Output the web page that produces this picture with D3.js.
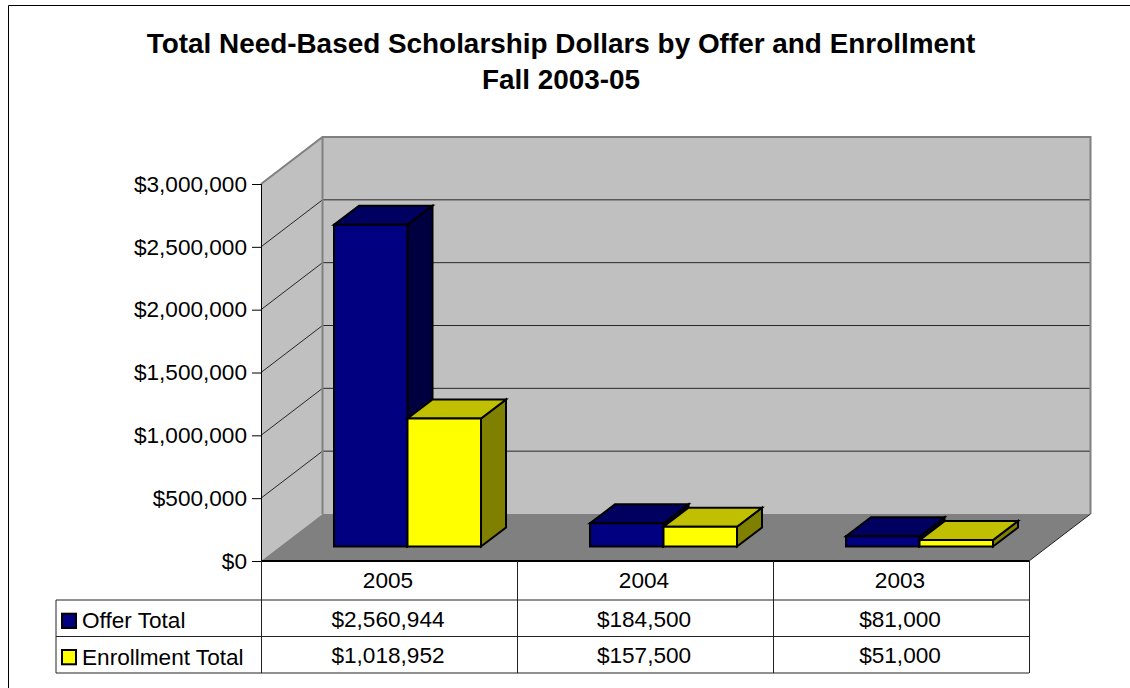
<!DOCTYPE html>
<html><head><meta charset="utf-8">
<script src="https://cdnjs.cloudflare.com/ajax/libs/d3/7.8.5/d3.min.js"></script>
<style>html,body{margin:0;padding:0;background:#fff;overflow:hidden}text{font-family:"Liberation Sans",Arial,sans-serif;fill:#000}</style>
</head><body><svg id="c" width="1130" height="688"></svg>
<script>
const titleLines = ["Total Need-Based Scholarship Dollars by Offer and Enrollment", "Fall 2003-05"];
const categories = ["2005", "2004", "2003"];
const seriesNames = ["Offer Total", "Enrollment Total"];
const offerTotal = [2560944, 184500, 81000];
const enrollmentTotal = [1018952, 157500, 51000];
const seriesValues = [offerTotal, enrollmentTotal];
const yTicks = [0, 500000, 1000000, 1500000, 2000000, 2500000, 3000000];

const svg = d3.select("#c");
const money = d3.format("$,");
const pLeft = 261, pRight = 1029, pBottom = 561, pTop = 184;
const depthX = 61.5, depthY = -47;
const x = d3.scaleBand().domain(categories).range([pLeft, pRight]);
const y = d3.scaleLinear().domain([0, 3000000]).range([pBottom, pTop]);
const line = d3.line();
const fs = 22.6;

// frame
svg.append("path").attr("d", "M8.5,688V5.5H1130").attr("fill", "none").attr("stroke", "#000").attr("stroke-width", 1);

// title
svg.selectAll(".title").data(titleLines).join("text").attr("class", "title")
  .attr("x", 561).attr("y", (d, i) => 52.5 + i * 36).attr("text-anchor", "middle")
  .attr("font-size", 27.9).attr("font-weight", "bold").text(d => d);

// walls and floor
const poly = (pts, fill) => svg.append("path").attr("d", line(pts) + "Z").attr("fill", fill);
poly([[pLeft, pBottom], [pLeft + depthX, pBottom + depthY], [pLeft + depthX, pTop + depthY], [pLeft, pTop]], "#c0c0c0");
poly([[pLeft + depthX, pBottom + depthY], [pRight + depthX, pBottom + depthY], [pRight + depthX, pTop + depthY], [pLeft + depthX, pTop + depthY]], "#c0c0c0");
poly([[pLeft, pBottom], [pRight, pBottom], [pRight + depthX, pBottom + depthY], [pLeft + depthX, pBottom + depthY]], "#808080");

// gridlines
const grid = yTicks.filter(t => t > 0 && t < 3000000);
svg.selectAll(".g").data(grid).join("path").attr("fill", "none").attr("stroke", "#000").attr("stroke-width", 1)
  .attr("stroke-opacity", .8)
  .attr("d", t => line([[pLeft, y(t)], [pLeft + depthX, y(t) + depthY], [pRight + depthX, y(t) + depthY]]));

// wall outlines
svg.append("path").attr("fill", "none").attr("stroke", "#808080").attr("stroke-width", 2)
  .attr("d", line([[pLeft, pTop], [pLeft + depthX, pTop + depthY], [pRight + depthX, pTop + depthY], [pRight + depthX, pBottom + depthY]]));
svg.append("path").attr("fill", "none").attr("stroke", "#808080").attr("stroke-width", 2)
  .attr("d", line([[pLeft + depthX, pTop + depthY], [pLeft + depthX, pBottom + depthY]]));
svg.append("path").attr("fill", "none").attr("stroke", "#222").attr("stroke-width", 1)
  .attr("d", line([[pRight, pBottom], [pRight + depthX, pBottom + depthY]]));

// bars
const barW = 73.5, barGap = 54, floorDX = 19, floorDY = -14.5, barDX = 25, barDY = -19;
const seriesFill = [
  {front: "#000080", topc: "#000060", side: "#000040"},
  {front: "#ffff00", topc: "#c0c000", side: "#808000"}
];
categories.forEach((c, ci) => {
  seriesValues.forEach((vals, si) => {
    const x0 = x(c) + barGap + floorDX + si * barW, x1 = x0 + barW;
    const y0 = y(0) + floorDY, y1 = y(vals[ci]) + floorDY;
    const col = seriesFill[si], g = svg.append("g").attr("stroke", "#000").attr("stroke-width", 2).attr("stroke-linejoin", "miter");
    const p = (pts, f) => g.append("path").attr("d", line(pts) + "Z").attr("fill", f);
    p([[x1, y0], [x1 + barDX, y0 + barDY], [x1 + barDX, y1 + barDY], [x1, y1]], col.side);
    p([[x0, y1], [x1, y1], [x1 + barDX, y1 + barDY], [x0 + barDX, y1 + barDY]], col.topc);
    p([[x0, y0], [x1, y0], [x1, y1], [x0, y1]], col.front);
  });
});

// value axis
const axis = d3.axisLeft(y).tickValues(yTicks).tickFormat(money).tickSize(9).tickPadding(5);
const ga = svg.append("g").attr("transform", `translate(${pLeft},0)`).call(axis);
ga.select(".domain").attr("stroke", "#000").attr("stroke-width", 1).attr("d", `M0.5,${pTop}V${pBottom}`);
ga.selectAll("line").attr("stroke", "#000");
ga.selectAll("text").attr("font-size", fs).attr("fill", "#000");
ga.attr("font-family", null).attr("font-size", null);

// data table
const tbl = svg.append("g").attr("fill", "none").attr("stroke", "#222").attr("stroke-width", 1);
tbl.append("path").attr("d", `M${pLeft},${pBottom}H${pRight}`).attr("stroke", "#000").attr("stroke-width", 2);
[600, 636.5, 673].forEach(r => tbl.append("path").attr("d", `M56,${r}H${pRight}`));
tbl.append("path").attr("d", `M56,600V673`);
x.domain().concat([null]).forEach(c => {
  const xp = c === null ? pRight : x(c);
  tbl.append("path").attr("d", `M${Math.round(xp) + .5},${pBottom}V673`);
});
svg.selectAll(".cat").data(categories).join("text").attr("class", "cat")
  .attr("x", d => x(d) + x.bandwidth() / 2 - 1).attr("y", 588).attr("text-anchor", "middle").attr("font-size", fs).text(d => d);
seriesValues.forEach((vals, si) => {
  svg.selectAll(".v" + si).data(vals).join("text").attr("class", "v" + si)
    .attr("x", (d, i) => x(categories[i]) + x.bandwidth() / 2 - 1).attr("y", 627 + si * 36)
    .attr("text-anchor", "middle").attr("font-size", fs).text(d => money(d));
  svg.append("rect").attr("x", 62).attr("y", 613.7 + si * 36.3).attr("width", 14).attr("height", 14.3)
    .attr("fill", seriesFill[si].front).attr("stroke", "#000").attr("stroke-width", 2);
  svg.append("text").attr("x", 82).attr("y", 628 + si * 37).attr("font-size", fs).text(seriesNames[si]);
});
</script></body></html>
